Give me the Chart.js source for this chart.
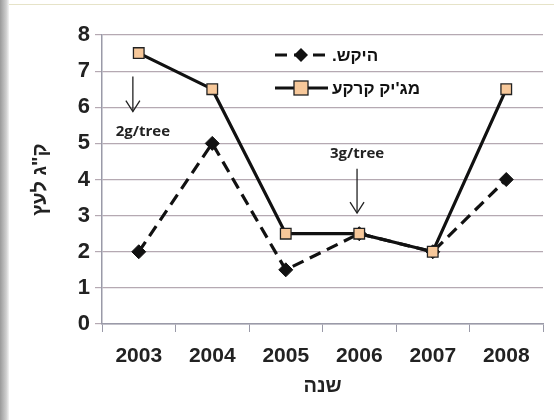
<!DOCTYPE html>
<html><head><meta charset="utf-8">
<script src="https://cdn.jsdelivr.net/npm/chart.js@4"></script>
<style>
html,body{margin:0;padding:0;background:#fff;}
#wrap{position:relative;width:554px;height:420px;overflow:hidden;background:#fff;}
#edge{position:absolute;left:0;top:0;width:9px;height:420px;background:linear-gradient(to right,#9a9a9a,#cfcfcf 70%,#f4f4f4);}
#topline{position:absolute;left:9px;top:4px;width:545px;height:1px;background:#e6e3c8;}
canvas{position:absolute;left:0;top:0;}
</style></head>
<body><div id="wrap"><div id="edge"></div><div id="topline"></div><canvas id="c" width="554" height="420"></canvas></div>
<script>
const categories = ['2003','2004','2005','2006','2007','2008'];
const seriesNames = ['היקש.', 'מג\'יק קרקע'];
const hekesh = [2, 5, 1.5, 2.5, 2, 4];
const magic = [7.5, 6.5, 2.5, 2.5, 2, 6.5];
const yTicks = [0,1,2,3,4,5,6,7,8];
const xTitle = 'שנה';
const yTitle = 'ק"ג לעץ';
const annotations = [
  {label:'2g/tree', x:-0.08, yFrom:6.85, yTo:5.88, textY:5.33, dx:10},
  {label:'3g/tree', x:2.97, yFrom:4.3, yTo:3.07, textY:4.72, dx:0}
];

const FONT = '"Liberation Sans", Arial, sans-serif';
const PL = 102, PR = 543, PT = 35, PB = 324;
const PADL = 28, PADB = 22;

const annoPlugin = {
  id:'anno',
  afterDatasetsDraw(chart){
    const ctx = chart.ctx, xs = chart.scales.x, ys = chart.scales.y;
    ctx.save();
    annotations.forEach(a=>{
      const px = xs.getPixelForValue(a.x);
      const y1 = ys.getPixelForValue(a.yFrom), y2 = ys.getPixelForValue(a.yTo);
      ctx.strokeStyle='#222'; ctx.lineWidth=1.3;
      ctx.beginPath(); ctx.moveTo(px,y1); ctx.lineTo(px,y2); ctx.stroke();
      ctx.beginPath(); ctx.moveTo(px-7,y2-11); ctx.lineTo(px,y2); ctx.lineTo(px+7,y2-11); ctx.stroke();
      ctx.fillStyle='#222'; ctx.font='bold 15px "Open Sans", ' + FONT;
      ctx.textAlign='center'; ctx.textBaseline='middle';
      ctx.fillText(a.label, px + a.dx, ys.getPixelForValue(a.textY));
    });
    // legend
    const ds = chart.data.datasets;
    const ly = [55, 88];
    ds.forEach((d,i)=>{
      const y = ly[i];
      ctx.strokeStyle='#111'; ctx.lineWidth=3;
      ctx.setLineDash(d.borderDash||[]);
      ctx.beginPath(); ctx.moveTo(275,y); ctx.lineTo(328,y); ctx.stroke();
      ctx.setLineDash([]);
      const mx=301;
      if(d.pointStyle==='rectRot'){
        ctx.fillStyle='#111';
        ctx.beginPath(); ctx.moveTo(mx,y-7); ctx.lineTo(mx+7,y); ctx.lineTo(mx,y+7); ctx.lineTo(mx-7,y); ctx.closePath(); ctx.fill();
      } else {
        ctx.fillStyle='#f7c89a'; ctx.strokeStyle='#222'; ctx.lineWidth=1.3;
        ctx.fillRect(mx-7,y-7,14,14); ctx.strokeRect(mx-7,y-7,14,14);
      }
      ctx.fillStyle='#111'; ctx.font='bold 17px ' + FONT;
      ctx.textBaseline='middle';
      ctx.direction='rtl';
      ctx.textAlign='right';
      const w = ctx.measureText(d.label).width;
      ctx.fillText(d.label, 332 + w, y+1);
      ctx.direction='ltr';
    });
    ctx.restore();
  }
};

new Chart(document.getElementById('c'), {
  type:'line',
  data:{
    labels:categories,
    datasets:[
      {label:seriesNames[0], data:hekesh, order:2, borderColor:'#111', borderWidth:3.2, borderDash:[12,7],
       pointStyle:'rectRot', pointRadius:7, pointBackgroundColor:'#111', pointBorderColor:'#111', pointBorderWidth:1, tension:0},
      {label:seriesNames[1], data:magic, order:1, borderColor:'#111', borderWidth:3.2,
       pointStyle:'rect', pointRadius:7.5, pointBackgroundColor:'#f7c89a', pointBorderColor:'#222', pointBorderWidth:1.3, tension:0}
    ]
  },
  options:{
    responsive:false, animation:false, devicePixelRatio:1,
    layout:{padding:{left:PADL, right:11, top:PT, bottom:PADB}},
    plugins:{legend:{display:false}, tooltip:{enabled:false}},
    scales:{
      x:{
        offset:true,
        grid:{display:true, drawOnChartArea:false, drawTicks:true, tickLength:8, color:'#9a9aa8', offset:true},
        border:{display:true, color:'#9a9aa8', width:1.5},
        ticks:{color:'#222', font:{family:FONT, size:21, weight:'bold'}, padding:12, maxRotation:0},
        title:{display:true, text:xTitle, color:'#222', font:{family:FONT, size:20, weight:'bold'}, padding:{top:0,bottom:0}},
        afterFit(s){ s.height = 420 - PB - PADB; }
      },
      y:{
        min:0, max:8,
        afterBuildTicks(s){ s.ticks = yTicks.map(v=>({value:v})); },
        grid:{color:'#b5a9b2', lineWidth:1.2, drawTicks:true, tickLength:7},
        border:{display:true, color:'#9a9aa8', width:1.5},
        ticks:{color:'#222', font:{family:FONT, size:22, weight:'bold'}, padding:5},
        title:{display:true, text:yTitle, color:'#222', font:{family:FONT, size:20, weight:'bold'}, padding:{top:0,bottom:14}},
        afterFit(s){ s.width = PL - PADL; }
      }
    }
  },
  plugins:[annoPlugin]
});
</script></body></html>
